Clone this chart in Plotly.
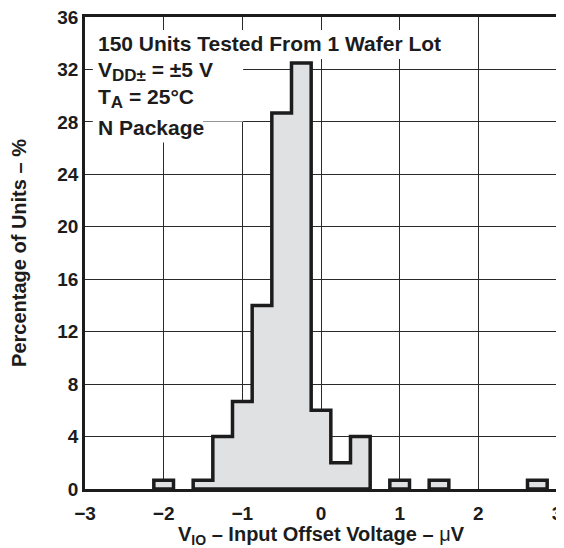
import plotly.graph_objects as go

# ---- data ----
bin_centers = [-2.0, -1.5, -1.25, -1.0, -0.75, -0.5, -0.25, 0.0, 0.25, 0.5, 1.0, 1.5, 2.75]
percent_units = [0.67, 0.67, 4.0, 6.67, 14.0, 28.67, 32.5, 6.0, 2.0, 4.0, 0.67, 0.67, 0.67]
bin_width = 0.25

x_tick_vals = [-3, -2, -1, 0, 1, 2, 3]
x_tick_text = ["\u22123", "\u22122", "\u22121", "0", "1", "2", "3"]
y_tick_vals = [0, 4, 8, 12, 16, 20, 24, 28, 32, 36]

SUB = "<span style='font-size:17px'>{}</span>"
notes = [
    "150 Units Tested From 1 Wafer Lot",
    "V<sub>" + SUB.format("DD\u00b1") + "</sub> = \u00b15 V",
    "T<sub>" + SUB.format("A") + "</sub> = 25\u00b0C",
    "N Package",
]

FONT = "Liberation Sans, Arial, Helvetica, sans-serif"
INK = "#1c1c1c"

# group contiguous bins into step outlines
groups = []
for c, h in zip(bin_centers, percent_units):
    left, right = c - bin_width / 2, c + bin_width / 2
    if groups and abs(groups[-1][-1][1] - left) < 1e-9:
        groups[-1].append((left, right, h))
    else:
        groups.append([(left, right, h)])

fig = go.Figure()
for g in groups:
    xs = [g[0][0]]
    ys = [0]
    for left, right, h in g:
        xs += [left, right]
        ys += [h, h]
    xs += [g[-1][1], g[0][0]]
    ys += [0, 0]
    fig.add_trace(go.Scatter(
        x=xs, y=ys, mode="lines", fill="toself",
        fillcolor="#e0e1e3", line=dict(color=INK, width=3.5),
        hoverinfo="skip", showlegend=False,
    ))

# white backgrounds behind the note lines (hide grid lines)
rects = [(-2.9, 1.6, 32.8, 35.0), (-2.9, -0.99, 28.03, 32.8), (-2.9, -1.5, 26.42, 28.1)]
for x0, x1, y0, y1 in rects:
    fig.add_shape(type="rect", xref="x", yref="y", x0=x0, x1=x1, y0=y0, y1=y1,
                  fillcolor="white", line=dict(width=0), layer="between")

note_y = [33.95, 31.85, 29.75, 27.55]
for txt, yy in zip(notes, note_y):
    fig.add_annotation(x=-2.86, y=yy, xref="x", yref="y", text=txt,
                       showarrow=False, xanchor="left", yanchor="middle",
                       font=dict(family=FONT, size=21, color=INK, weight="bold"))

# page body adds an 8px offset, so the figure is 8px smaller than the window
fig.update_layout(
    width=556, height=540,
    margin=dict(l=77, r=7, t=9, b=59),
    paper_bgcolor="white", plot_bgcolor="white",
    font=dict(family=FONT, color=INK, weight="bold"),
    showlegend=False,
)
fig.update_xaxes(
    range=[-3, 3], tickvals=x_tick_vals, ticktext=x_tick_text, automargin=False,
    showgrid=True, gridcolor="#2a2a2a", gridwidth=1, zeroline=False,
    showline=True, mirror=True, linecolor=INK, linewidth=2.5,
    ticks="", ticklabelstandoff=5, ticklabeloverflow="allow",
    tickfont=dict(family=FONT, size=19, color=INK, weight="bold"),
    title=dict(text="V<sub>IO</sub> \u2013 Input Offset Voltage \u2013 <span style='font-weight:normal'>\u03bc</span>V",
               font=dict(family=FONT, size=20, color=INK, weight="bold"), standoff=5),
)
fig.update_yaxes(
    range=[0, 36], tickvals=y_tick_vals, automargin=False,
    showgrid=True, gridcolor="#2a2a2a", gridwidth=1, zeroline=False,
    showline=True, mirror=True, linecolor=INK, linewidth=2.5,
    ticks="", ticklabeloverflow="allow",
    tickfont=dict(family=FONT, size=19, color=INK, weight="bold"),
    title=dict(text="Percentage of Units \u2013 %",
               font=dict(family=FONT, size=20, color=INK, weight="bold"), standoff=27),
)

fig.write_html("out.html")
